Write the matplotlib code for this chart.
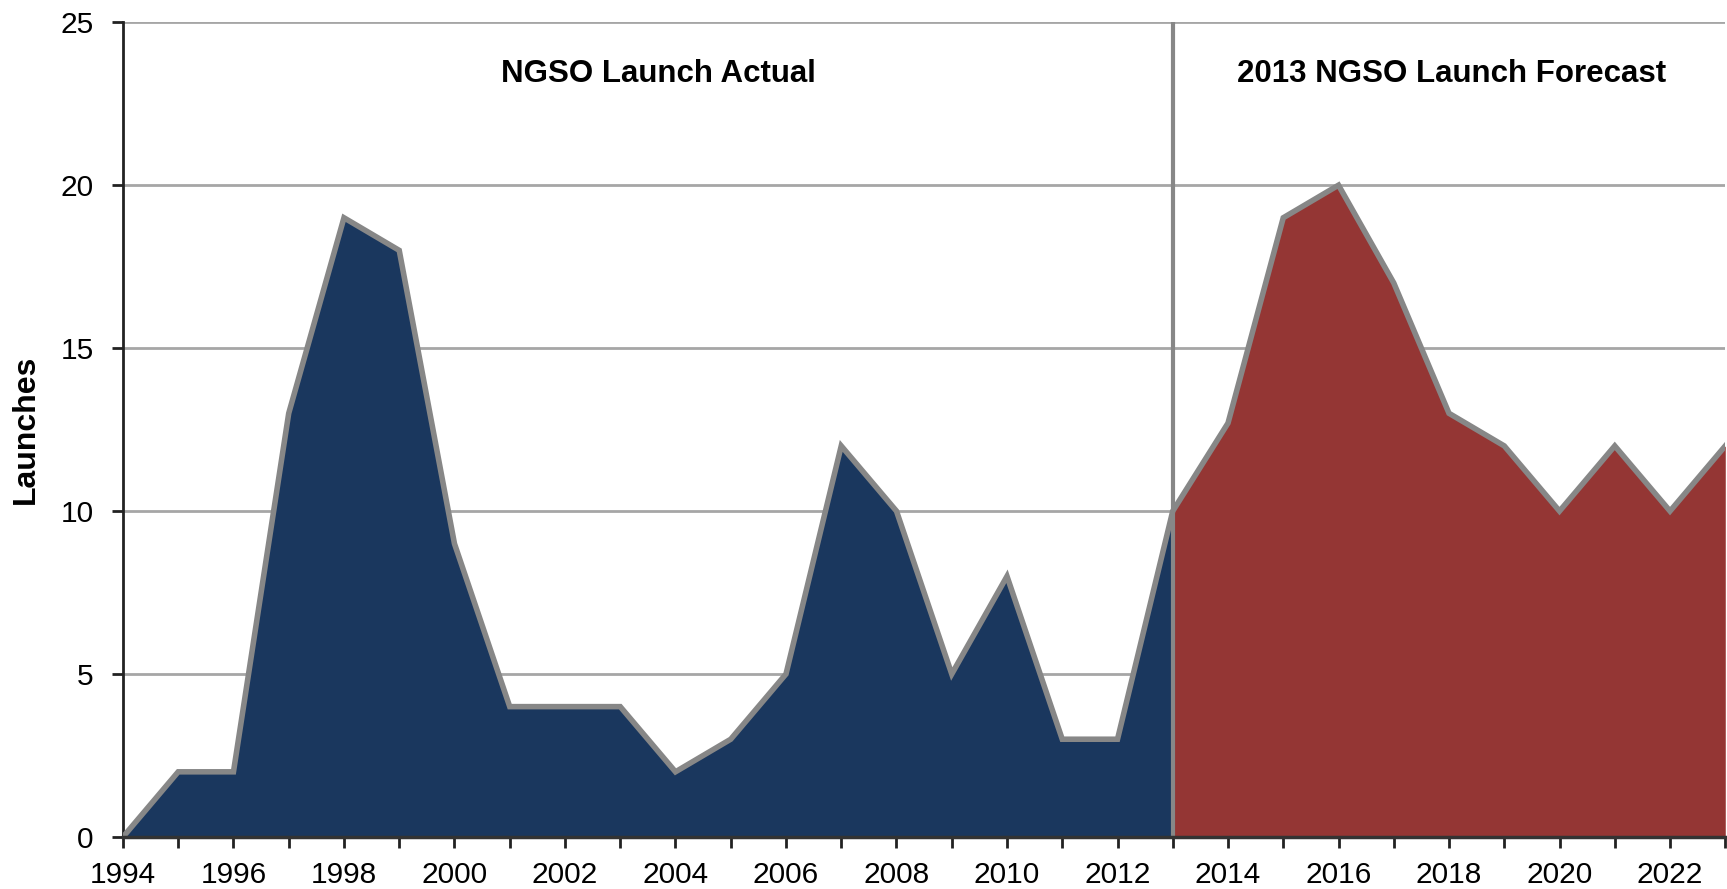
import numpy as np
import matplotlib.pyplot as plt

plt.rcParams['font.family'] = ['Liberation Sans', 'DejaVu Sans']

# data
years_actual = [1994, 1995, 1996, 1997, 1998, 1999, 2000, 2001, 2002, 2003,
                2004, 2005, 2006, 2007, 2008, 2009, 2010, 2011, 2012, 2013]
launch_actual = [0, 2, 2, 13, 19, 18, 9, 4, 4, 4,
                 2, 3, 5, 12, 10, 5, 8, 3, 3, 10]

years_forecast = [2013, 2014, 2015, 2016, 2017, 2018, 2019, 2020, 2021, 2022, 2023]
launch_forecast = [10, 12.7, 19, 20, 17, 13, 12, 10, 12, 10, 12]

y_ticks = [0, 5, 10, 15, 20, 25]

BLUE = '#1a375e'
RED = '#943634'
EDGE = '#878787'
GRID = '#a6a6a6'

fig = plt.figure(figsize=(17.27, 8.89), dpi=100)
ax = fig.add_axes([0.0712, 0.0585, 0.9278, 0.9165])

ax.set_xlim(1994, 2023)
ax.set_ylim(0, 25)

for y in y_ticks[1:]:
    ax.axhline(y, color=GRID, lw=2, zorder=0)

ax.fill_between(years_actual, launch_actual, color=BLUE, lw=0, zorder=2)
ax.fill_between(years_forecast, launch_forecast, color=RED, lw=0, zorder=2)
ax.plot(years_actual + years_forecast[1:], launch_actual + launch_forecast[1:],
        color=EDGE, lw=4, solid_joinstyle='miter', zorder=3)
ax.axvline(2013, color=EDGE, lw=3, zorder=4)

ax.text(2003.7, 23.4, 'NGSO Launch Actual', ha='center', va='center',
        fontsize=22.5, fontweight='bold')
ax.text(2018.05, 23.4, '2013 NGSO Launch Forecast', ha='center', va='center',
        fontsize=22.5, fontweight='bold')

# yearly ticks, labels on even years only
ax.set_xticks(range(1994, 2024))
ax.set_xticklabels([str(y) if y % 2 == 0 else '' for y in range(1994, 2024)])
ax.set_yticks(y_ticks)
ax.tick_params(axis='both', labelsize=21.5, direction='out', length=8, width=2,
               color='#222222')
ax.tick_params(axis='x', pad=9)
ax.tick_params(axis='y', pad=13)
ax.set_ylabel('Launches', fontsize=23, fontweight='bold', labelpad=14)

for s in ['top', 'right']:
    ax.spines[s].set_visible(False)
ax.spines['left'].set_linewidth(2)
ax.spines['left'].set_color('#222222')
ax.spines['bottom'].set_linewidth(2.5)
ax.spines['bottom'].set_color('#333333')
ax.spines['bottom'].set_zorder(5)

fig.savefig('out.png', dpi=100)
